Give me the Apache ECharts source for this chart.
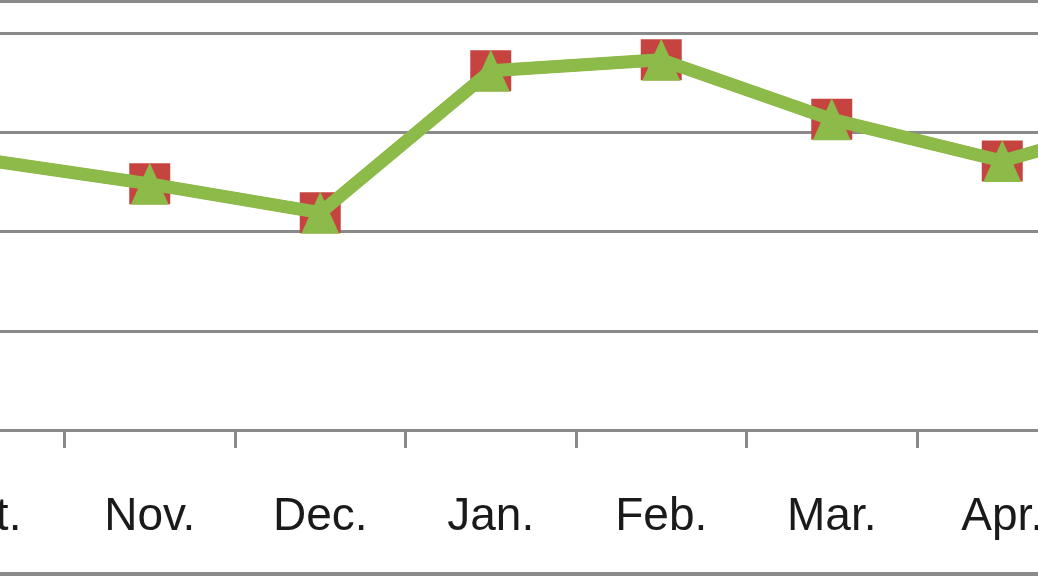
<!DOCTYPE html>
<html>
<head>
<meta charset="utf-8">
<script src="https://cdn.jsdelivr.net/npm/echarts@6/dist/echarts.min.js"></script>
<style>
html,body{margin:0;padding:0;background:#fff;overflow:hidden;}
#wrap{position:relative;width:1038px;height:576px;overflow:hidden;}
#main{position:absolute;left:-106px;top:0;width:1364px;height:576px;}
</style>
</head>
<body>
<div id="wrap"><div id="main"></div></div>
<script>
// Categories (Oct. and May are only partly in view, as in the reference crop)
var categories = ['Oct.', 'Nov.', 'Dec.', 'Jan.', 'Feb.', 'Mar.', 'Apr.', 'May'];
// Series with red square markers
var seriesSquares = [27.3, 24.8, 21.9, 36.2, 37.3, 31.3, 27.1, 32.0];
// Series with green triangle markers (same readings, drawn on top)
var seriesTriangles = [27.3, 24.8, 21.9, 36.2, 37.3, 31.3, 27.1, 32.0];
var yTicks = [0, 10, 20, 30, 40];

var chart = echarts.init(document.getElementById('main'));
var gray = '#8a8a8a';
chart.setOption({
  animation: false,
  backgroundColor: '#ffffff',
  grid: { left: 0, right: 0, top: 33, bottom: 146, containLabel: false },
  xAxis: {
    type: 'category',
    data: categories,
    boundaryGap: true,
    axisLine: { show: true, lineStyle: { color: gray, width: 3 } },
    axisTick: { show: true, length: 18, lineStyle: { color: gray, width: 3 } },
    axisLabel: {
      color: '#1a1a1a', fontSize: 46, margin: 64,
      fontFamily: 'Liberation Sans, Arial, sans-serif'
    },
    splitLine: { show: false }
  },
  yAxis: {
    type: 'value',
    min: yTicks[0], max: yTicks[yTicks.length - 1], interval: 10,
    axisLine: { show: false }, axisTick: { show: false }, axisLabel: { show: false },
    splitLine: { show: true, lineStyle: { color: gray, width: 3 } }
  },
  graphic: [
    { type: 'rect', left: 0, top: 0, shape: { width: 1364, height: 3 }, style: { fill: gray }, silent: true },
    { type: 'rect', left: 0, top: 572, shape: { width: 1364, height: 4 }, style: { fill: gray }, silent: true }
  ],
  series: [
    {
      type: 'line', data: seriesSquares,
      symbol: 'rect', symbolSize: 41,
      itemStyle: { color: '#c6443f' },
      lineStyle: { color: '#c6443f', width: 12 },
      z: 2
    },
    {
      type: 'line', data: seriesTriangles,
      symbol: 'triangle', symbolSize: [38, 42],
      itemStyle: { color: '#8dbb4a' },
      lineStyle: { color: '#8dbb4a', width: 13 },
      z: 3
    }
  ]
});
</script>
</body>
</html>
